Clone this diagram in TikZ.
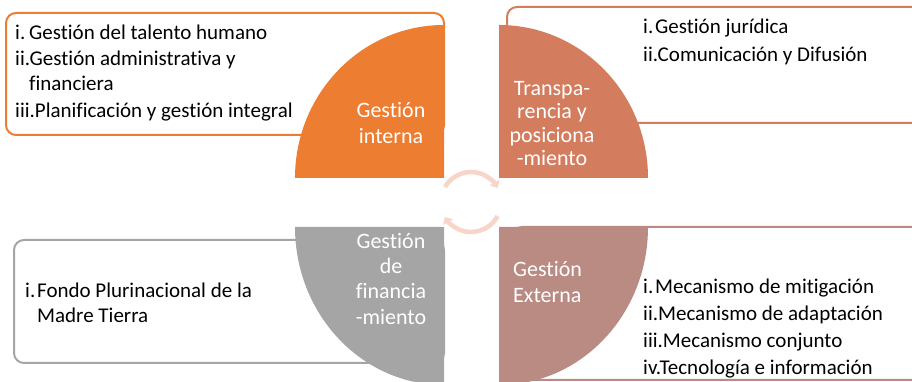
\documentclass[tikz,border=0pt]{standalone}
\usepackage{fontspec}
\setmainfont{Carlito}[Ligatures=NoCommon]
\usetikzlibrary{arrows.meta}
\definecolor{cA}{HTML}{ED7D31}
\definecolor{cB}{HTML}{D47C5E}
\definecolor{cC}{HTML}{A5A5A5}
\definecolor{cD}{HTML}{B98B83}
\definecolor{cArr}{HTML}{F7D5C8}
\begin{document}
\begin{tikzpicture}[x=1pt,y=1pt,
  box/.style={line width=2pt, rounded corners=10pt, fill=white},
  qtext/.style={text=white, font=\fontsize{22}{26}\selectfont, anchor=base, inner sep=0pt},
  ltext/.style={text=black, font=\fontsize{21}{25}\selectfont, anchor=base west, inner sep=0pt},
  cyc/.style={line width=4.5pt, draw=cArr, -{Triangle[length=6pt,width=11pt]}}]
\useasboundingbox (0,0) rectangle (912,382);
\clip (0,0) rectangle (912,382);
\fill[white] (0,0) rectangle (912,382);
% text boxes
\draw[box, draw=cA] (6,247) rectangle (444,369);
\draw[box, draw=cB] (507,259) rectangle (940,375);
\draw[box, draw=cC] (14,19) rectangle (444,142);
\draw[box, draw=cD] (512,2) rectangle (940,155);
% quadrants
\fill[cA] (444,204) -- (295,204) arc[start angle=180, end angle=90, x radius=149, y radius=153] -- cycle;
\fill[cB] (499,204) -- (499,357) arc[start angle=90, end angle=0, x radius=149, y radius=153] -- cycle;
\fill[cC] (444,155) -- (295,155) arc[start angle=180, end angle=270, x radius=149, y radius=158] -- cycle;
\fill[cD] (499,155) -- (648,155) arc[start angle=0, end angle=-90, x radius=149, y radius=158] -- cycle;
% centre cycle arrows
\draw[cyc] (471,180) ++(150:30) arc[start angle=150, end angle=28, radius=30];
\draw[cyc] (471,180) ++(-28:30) arc[start angle=-28, end angle=-150, radius=30];
% quadrant labels
\node[qtext] (q1a) at (391,264) {Gestión};
\node[qtext] (q1b) at (391,238) {interna};
\node[qtext] (q2a) at (552,286) {Transpa-};
\node[qtext] (q2b) at (552,263) {rencia y};
\node[qtext] (q2c) at (552,239) {posiciona};
\node[qtext] (q2d) at (552,216) {-miento};
\node[qtext] (q3a) at (391,133) {Gestión};
\node[qtext] (q3b) at (391,108) {de};
\node[qtext] (q3c) at (391,83) {financia};
\node[qtext] (q3d) at (391,57) {-miento};
\node[qtext, anchor=base west] (q4a) at (513,105) {Gestión};
\node[qtext, anchor=base west] (q4b) at (513,79) {Externa};
% lists
\node[ltext] (a1n) at (15,342) {i.};
\node[ltext] (a1) at (29,342) {Gestión del talento humano};
\node[ltext] (a2) at (15,316) {ii.Gestión administrativa y};
\node[ltext] (a2c) at (29,291) {financiera};
\node[ltext] (a3) at (15,264) {iii.Planificación y gestión integral};
\node[ltext] (b1n) at (643,348) {i.};
\node[ltext] (b1) at (655,348) {Gestión jurídica};
\node[ltext] (b2) at (643,320) {ii.Comunicación y Difusión};
\node[ltext] (c1n) at (25,84) {i.};
\node[ltext] (c1) at (37,84) {Fondo Plurinacional de la};
\node[ltext] (c1c) at (37,59) {Madre Tierra};
\node[ltext] (d1n) at (643,88) {i.};
\node[ltext] (d1) at (655,88) {Mecanismo de mitigación};
\node[ltext] (d2) at (643,61) {ii.Mecanismo de adaptación};
\node[ltext] (d3) at (643,34) {iii.Mecanismo conjunto};
\node[ltext] (d4) at (643,7) {iv.Tecnología e información};
\end{tikzpicture}
\end{document}
